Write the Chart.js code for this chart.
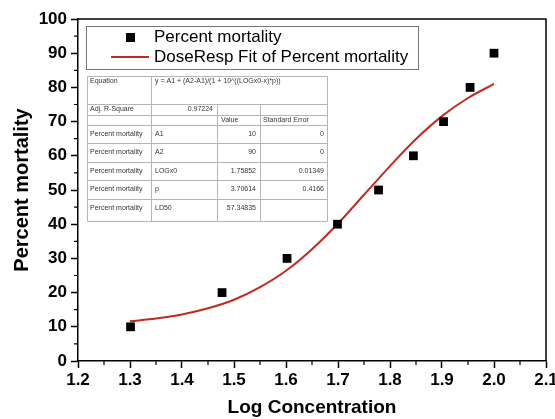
<!DOCTYPE html>
<html>
<head>
<meta charset="utf-8">
<script src="https://cdn.jsdelivr.net/npm/chart.js@4"></script>
<style>
  html, body { margin: 0; padding: 0; background: #fff; }
  #wrap { position: relative; width: 555px; height: 419px; }
</style>
</head>
<body>
<div id="wrap"><canvas id="chart" width="555" height="419"></canvas></div>
<script>
// Datos medidos
const doseLog = [1.301, 1.477, 1.602, 1.699, 1.778, 1.845, 1.903, 1.954, 2.000];
const mortality = [10, 20, 30, 40, 50, 60, 70, 80, 90];

// Curva de ajuste
const fitLog = [1.30, 1.35, 1.40, 1.45, 1.50, 1.55, 1.60, 1.65, 1.70, 1.75, 1.80, 1.85, 1.90, 1.95, 2.00];
const fitMortality = [11.6, 12.4, 13.6, 15.4, 17.9, 21.6, 26.4, 32.7, 40.2, 48.6, 57.0, 64.9, 71.6, 76.9, 81.0];

// Tabla de resultados
const equationText = 'y = A1 + (A2-A1)/(1 + 10^((LOGx0-x)*p))';
const adjRSquare = '0.97224';
const paramNames = ['A1', 'A2', 'LOGx0', 'p', 'LD50'];
const paramValues = ['10', '90', '1.75852', '3.70614', '57.34835'];
const paramErrors = ['0', '0', '0.01349', '0.4166', ''];

const legendLabels = ['Percent mortality', 'DoseResp Fit of Percent mortality'];

const FONT = "'Liberation Sans', Arial, sans-serif";
const RED = '#c32a1f';

// Marco, ticks menores, leyenda y tabla
const extrasPlugin = {
    id: 'extras',
    afterDraw(chart) {
        const ctx = chart.ctx;
        const area = chart.chartArea;
        const xs = chart.scales.x;
        const ys = chart.scales.y;
        ctx.save();

        // marco
        ctx.strokeStyle = '#000';
        ctx.lineWidth = 1.5;
        ctx.beginPath();
        ctx.moveTo(area.left, area.top);
        ctx.lineTo(area.right, area.top);
        ctx.lineTo(area.right, area.bottom);
        ctx.stroke();

        // ticks menores
        ctx.lineWidth = 1.2;
        ctx.beginPath();
        for (let v = 1.25; v < 2.1; v += 0.1) {
            const px = xs.getPixelForValue(v);
            ctx.moveTo(px, area.bottom);
            ctx.lineTo(px, area.bottom + 4);
        }
        for (let v = 5; v < 100; v += 10) {
            const py = ys.getPixelForValue(v);
            ctx.moveTo(area.left, py);
            ctx.lineTo(area.left - 4, py);
        }
        ctx.stroke();

        // leyenda
        ctx.fillStyle = '#fff';
        ctx.fillRect(86, 26, 332, 43);
        ctx.strokeStyle = '#777';
        ctx.lineWidth = 1;
        ctx.strokeRect(86.5, 26.5, 332, 43);
        ctx.fillStyle = '#000';
        ctx.fillRect(126, 33, 9, 9);
        ctx.strokeStyle = RED;
        ctx.lineWidth = 2;
        ctx.beginPath();
        ctx.moveTo(111, 57);
        ctx.lineTo(149, 57);
        ctx.stroke();
        ctx.fillStyle = '#000';
        ctx.font = '17px ' + FONT;
        ctx.textBaseline = 'middle';
        ctx.textAlign = 'left';
        ctx.fillText(legendLabels[0], 154, 37);
        ctx.fillText(legendLabels[1], 154, 57);

        // tabla
        const cols = [87, 151, 217, 260, 327];
        const top = 76, bottom = 221;
        const rowLines = [104, 115, 125];
        const rowH = 18.4;
        ctx.fillStyle = '#fff';
        ctx.fillRect(cols[0], top, cols[4] - cols[0], bottom - top);
        ctx.strokeStyle = '#b5b5b5';
        ctx.lineWidth = 1;
        ctx.beginPath();
        ctx.rect(cols[0] + 0.5, top + 0.5, cols[4] - cols[0], bottom - top);
        rowLines.forEach(y => { ctx.moveTo(cols[0], y + 0.5); ctx.lineTo(cols[4], y + 0.5); });
        for (let i = 1; i < paramNames.length; i++) {
            const y = Math.round(125 + rowH * i) + 0.5;
            ctx.moveTo(cols[0], y); ctx.lineTo(cols[4], y);
        }
        ctx.moveTo(cols[1] + 0.5, top); ctx.lineTo(cols[1] + 0.5, bottom);
        ctx.moveTo(cols[2] + 0.5, 104); ctx.lineTo(cols[2] + 0.5, bottom);
        ctx.moveTo(cols[3] + 0.5, 104); ctx.lineTo(cols[3] + 0.5, bottom);
        ctx.stroke();

        ctx.fillStyle = '#333';
        ctx.font = '7px ' + FONT;
        ctx.textAlign = 'left';
        ctx.fillText('Equation', 90, 81);
        ctx.fillText(equationText, 155, 81);
        ctx.fillText('Adj. R-Square', 90, 109.5);
        ctx.textAlign = 'right';
        ctx.fillText(adjRSquare, 213, 109.5);
        ctx.textAlign = 'left';
        ctx.fillText('Value', 221, 120);
        ctx.fillText('Standard Error', 263, 120);
        paramNames.forEach((name, i) => {
            const y = 134 + rowH * i;
            ctx.textAlign = 'left';
            ctx.fillText('Percent mortality', 90, y);
            ctx.fillText(name, 155, y);
            ctx.textAlign = 'right';
            ctx.fillText(paramValues[i], 256, y);
            ctx.fillText(paramErrors[i], 324, y);
        });
        ctx.restore();
    }
};

document.addEventListener('DOMContentLoaded', function() {
    const pts = doseLog.map((x, i) => ({ x: x, y: mortality[i] }));
    const fit = fitLog.map((x, i) => ({ x: x, y: fitMortality[i] }));

    new Chart(document.getElementById('chart').getContext('2d'), {
        type: 'scatter',
        data: {
            datasets: [{
                label: legendLabels[0],
                data: pts,
                pointStyle: 'rect',
                pointRadius: 6.2,
                pointHoverRadius: 6.2,
                backgroundColor: '#000',
                borderColor: '#000',
                borderWidth: 0
            }, {
                label: legendLabels[1],
                data: fit,
                showLine: true,
                pointRadius: 0,
                borderColor: RED,
                borderWidth: 2,
                cubicInterpolationMode: 'monotone'
            }]
        },
        options: {
            responsive: false,
            animation: false,
            layout: { padding: { left: 10, right: 9, top: 19, bottom: 0 } },
            plugins: {
                legend: { display: false },
                tooltip: { enabled: false }
            },
            scales: {
                x: {
                    type: 'linear',
                    min: 1.2,
                    max: 2.1,
                    afterFit: s => { s.height = 58; s.paddingLeft = 0; s.paddingRight = 0; },
                    ticks: {
                        stepSize: 0.1,
                        autoSkip: false,
                        maxRotation: 0,
                        padding: 2,
                        color: '#000',
                        font: { family: FONT, size: 17, weight: 'bold' },
                        callback: v => v.toFixed(1)
                    },
                    grid: { drawOnChartArea: false, drawTicks: true, tickLength: 7, tickWidth: 1.5, tickColor: '#000' },
                    border: { display: true, color: '#000', width: 1.5 },
                    title: {
                        display: true,
                        text: 'Log Concentration',
                        color: '#000',
                        padding: 0,
                        font: { family: FONT, size: 19, weight: 'bold' }
                    }
                },
                y: {
                    min: 0,
                    max: 100,
                    afterFit: s => { s.width = 68; s.paddingTop = 0; s.paddingBottom = 0; },
                    ticks: {
                        stepSize: 10,
                        padding: 4,
                        color: '#000',
                        font: { family: FONT, size: 17, weight: 'bold' }
                    },
                    grid: { drawOnChartArea: false, drawTicks: true, tickLength: 7, tickWidth: 1.5, tickColor: '#000' },
                    border: { display: true, color: '#000', width: 1.5 },
                    title: {
                        display: true,
                        text: 'Percent mortality',
                        color: '#000',
                        padding: 0,
                        font: { family: FONT, size: 20, weight: 'bold' }
                    }
                }
            }
        },
        plugins: [extrasPlugin]
    });
});
</script>
</body>
</html>
